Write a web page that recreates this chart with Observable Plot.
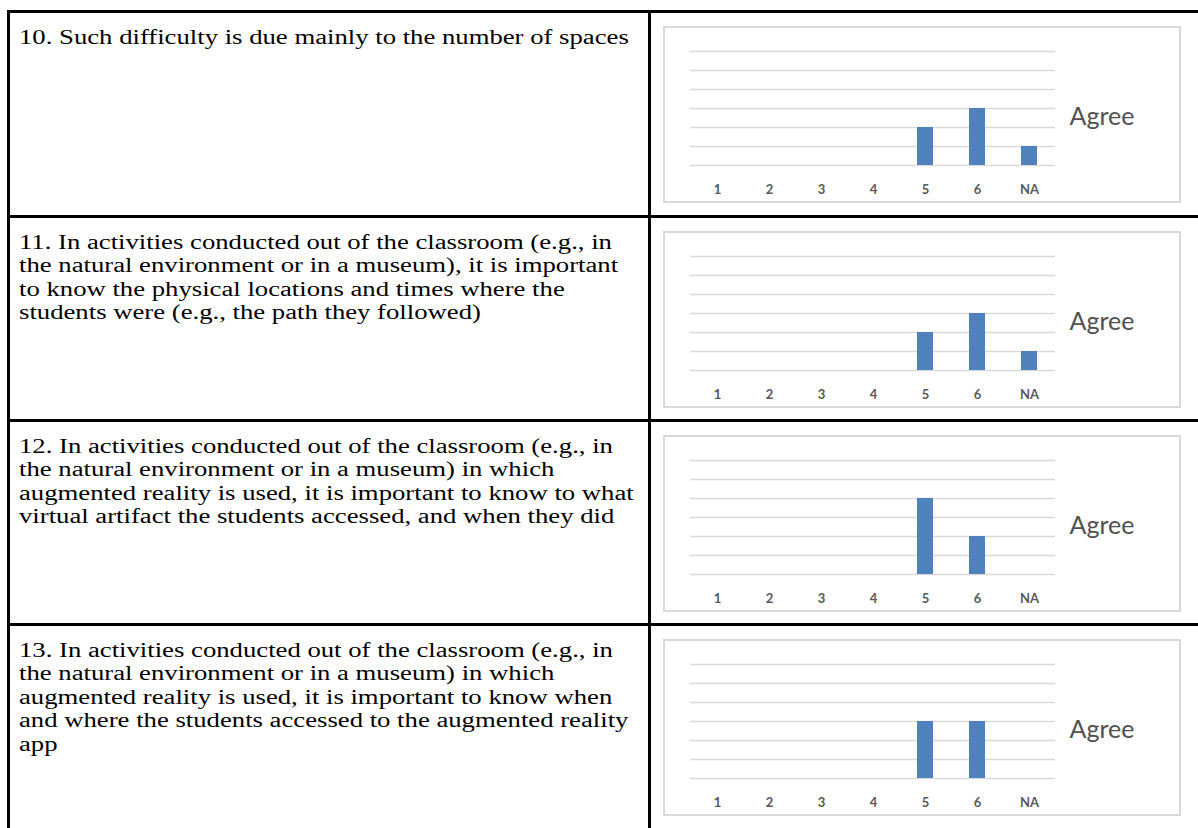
<!DOCTYPE html>
<html>
<head>
<meta charset="utf-8">
<script src="https://cdn.jsdelivr.net/npm/d3@7"></script>
<script src="https://cdn.jsdelivr.net/npm/@observablehq/plot@0.6"></script>
<style>
  html, body { margin: 0; padding: 0; background: #fff; }
  #page { position: relative; width: 1198px; height: 828px; overflow: hidden; }
  .rule { position: absolute; background: #000; }
  .qtext { position: absolute; left: 19px; font-family: "Liberation Serif", "Times New Roman", serif;
           font-size: 20px; line-height: 23.5px; color: #000; white-space: nowrap;
           transform: scaleX(1.335); transform-origin: 0 0; }
  .chartbox { position: absolute; left: 663px; width: 518px; height: 177px; }
  .chartbox svg { position: absolute; left: 0; top: 0; }
  .chartframe { position: absolute; left: 0; top: 0; width: 518px; height: 177px; box-sizing: border-box;
                border: 2px solid #d9d9d9; pointer-events: none; }
</style>
</head>
<body>
<div id="page"></div>
<script>
// ---- data ----
const categories = ["1", "2", "3", "4", "5", "6", "NA"];
const q10 = [0, 0, 0, 0, 2, 3, 1];
const q11 = [0, 0, 0, 0, 2, 3, 1];
const q12 = [0, 0, 0, 0, 4, 2, 0];
const q13 = [0, 0, 0, 0, 3, 3, 0];
const gridValues = [0, 1, 2, 3, 4, 5, 6];
const seriesName = "Agree";
const text10 = ["10. Such difficulty is due mainly to the number of spaces"];
const text11 = [
  "11. In activities conducted out of the classroom (e.g., in",
  "the natural environment or in a museum), it is important",
  "to know the physical locations and times where the",
  "students were (e.g., the path they followed)"
];
const text12 = [
  "12. In activities conducted out of the classroom (e.g., in",
  "the natural environment or in a museum) in which",
  "augmented reality is used, it is important to know to what",
  "virtual artifact the students accessed, and when they did"
];
const text13 = [
  "13. In activities conducted out of the classroom (e.g., in",
  "the natural environment or in a museum) in which",
  "augmented reality is used, it is important to know when",
  "and where the students accessed to the augmented reality",
  "app"
];

const rows = [
  {text: text10, values: q10},
  {text: text11, values: q11},
  {text: text12, values: q12},
  {text: text13, values: q13}
];

// ---- layout ----
const page = document.getElementById("page");
const dividerTops = [10, 215, 419, 623];

function addRule(l, t, w, h) {
  const d = document.createElement("div");
  d.className = "rule";
  Object.assign(d.style, {left: l + "px", top: t + "px", width: w + "px", height: h + "px"});
  page.appendChild(d);
}
dividerTops.forEach(t => addRule(7, t, 1191, 3));
addRule(7, 10, 3, 818);
addRule(648, 10, 3, 818);

rows.forEach((row, i) => {
  const top = dividerTops[i];
  const txt = document.createElement("div");
  txt.className = "qtext";
  txt.style.top = (top + 15.5) + "px";
  row.text.forEach(line => {
    const ln = document.createElement("div");
    ln.textContent = line;
    txt.appendChild(ln);
  });
  page.appendChild(txt);

  const data = categories.map((c, k) => ({category: c, value: row.values[k]}));
  const box = document.createElement("div");
  box.className = "chartbox";
  box.style.top = (top + 16) + "px";
  const chart = Plot.plot({
    width: 518,
    height: 177,
    marginLeft: 27,
    marginRight: 126,
    marginTop: 25,
    marginBottom: 38,
    style: {fontFamily: "Lato, 'Open Sans', sans-serif", background: "transparent", overflow: "visible"},
    x: {domain: categories, paddingInner: 0.7, paddingOuter: 0.35, label: null},
    y: {domain: [0, 6], axis: null},
    marks: [
      Plot.ruleY(gridValues, {stroke: "#d9d9d9", strokeWidth: 1.5}),
      Plot.barY(data.filter(d => d.value > 0), {x: "category", y: "value", fill: "#4f81bd"}),
      Plot.axisX({tickSize: 0, tickPadding: 19, fontSize: 13, fontWeight: "bold", fill: "#595959", label: null}),
      Plot.text([seriesName], {frameAnchor: "right", textAnchor: "start", dx: 14, dy: 8,
        fontSize: 25, fill: "#505050"})
    ]
  });
  box.appendChild(chart);
  const frame = document.createElement("div");
  frame.className = "chartframe";
  box.appendChild(frame);
  page.appendChild(box);
});
</script>
</body>
</html>
